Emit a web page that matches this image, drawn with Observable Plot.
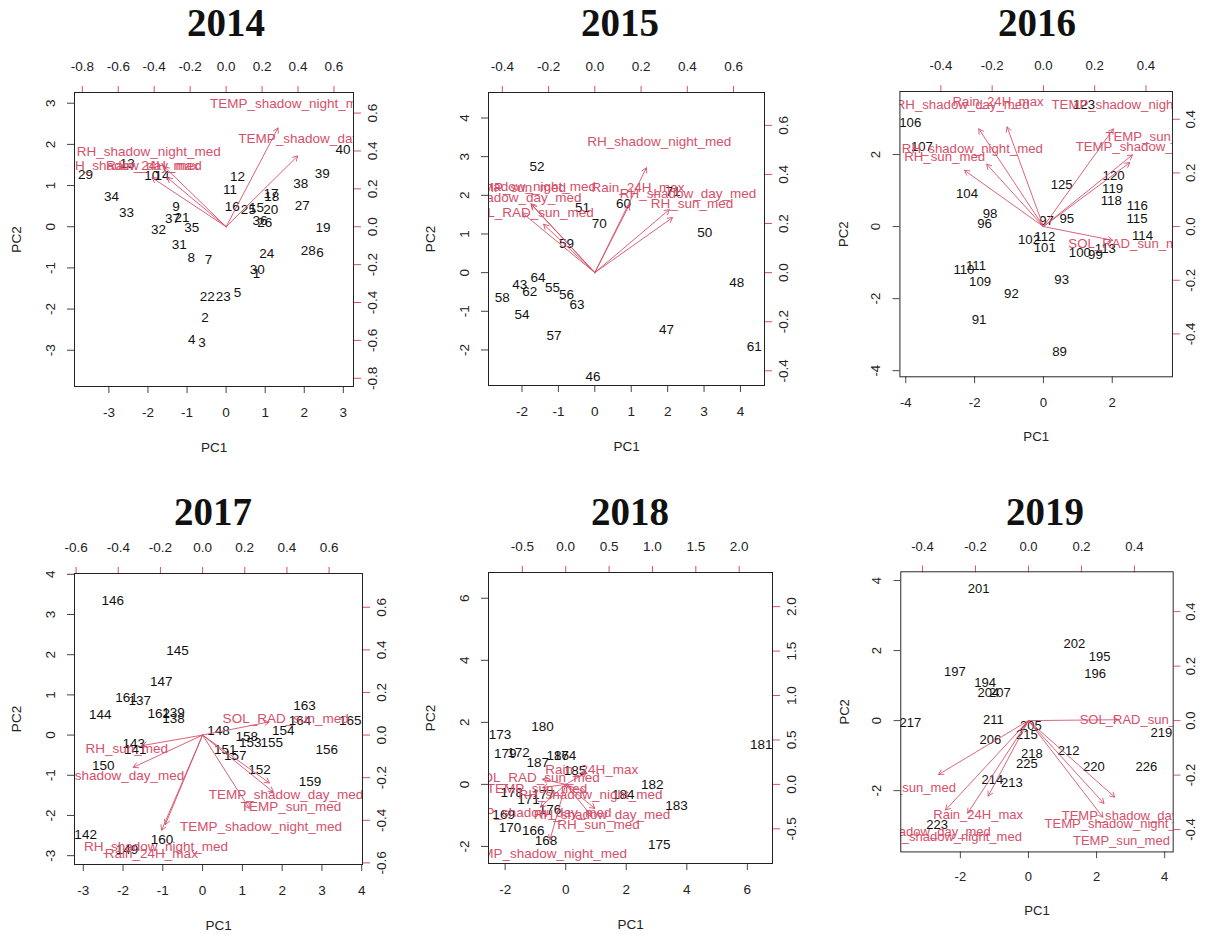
<!DOCTYPE html>
<html><head><meta charset="utf-8">
<script src="https://cdn.jsdelivr.net/npm/d3@7"></script>
<script src="https://cdn.jsdelivr.net/npm/@observablehq/plot@0.6"></script>
<style>
body{margin:0;background:#fff;width:1221px;height:935px;position:relative;overflow:hidden;font-family:"Liberation Sans",Arial,sans-serif}
.title{position:absolute;font-family:"Liberation Serif","Times New Roman",serif;font-weight:bold;font-size:39px;line-height:1;transform:translate(-50%,-50%);color:#111;white-space:nowrap}
.panel{position:absolute}
</style></head><body>
<script>
// ---------- 2014 ----------
const ids2014 = ["29","13","10","14","34","33","9","37","21","32","35","31","8","7","12","11","16","25","15","20","17","18","36","26","38","39","40","27","19","28","6","24","30","1","22","23","5","2","4","3"];
const pc1_2014 = [-3.6,-2.53,-1.9,-1.64,-2.93,-2.55,-1.28,-1.37,-1.13,-1.73,-0.88,-1.2,-0.89,-0.45,0.29,0.1,0.16,0.57,0.78,1.14,1.15,1.17,0.87,0.99,1.91,2.46,2.99,1.95,2.48,2.1,2.4,1.04,0.8,0.78,-0.48,-0.07,0.29,-0.54,-0.88,-0.62];
const pc2_2014 = [1.26,1.54,1.24,1.24,0.73,0.33,0.49,0.2,0.22,-0.08,-0.02,-0.43,-0.75,-0.81,1.22,0.89,0.49,0.42,0.46,0.42,0.8,0.72,0.14,0.1,1.04,1.3,1.88,0.51,-0.02,-0.57,-0.63,-0.65,-1.04,-1.13,-1.7,-1.69,-1.6,-2.2,-2.74,-2.82];
const vars2014 = ["TEMP_shadow_night_med","TEMP_shadow_day_med","RH_shadow_night_med","RH_shadow_day_med","Rain_24H_max"];
const load1_2014 = [0.361,0.498,-0.430,-0.515,-0.409];
const load2_2014 = [0.652,0.467,0.396,0.324,0.324];

// ---------- 2015 ----------
const ids2015 = ["52","51","60","70","59","50","71","64","43","62","58","55","56","63","54","57","46","47","48","61"];
const pc1_2015 = [-1.59,-0.34,0.79,0.12,-0.78,3.02,2.15,-1.56,-2.06,-1.79,-2.54,-1.16,-0.78,-0.49,-2.0,-1.12,-0.05,1.97,3.9,4.38];
const pc2_2015 = [2.75,1.69,1.78,1.26,0.75,1.03,2.1,-0.13,-0.3,-0.5,-0.64,-0.4,-0.56,-0.83,-1.09,-1.63,-2.68,-1.48,-0.27,-1.91];
const vars2015 = ["RH_shadow_night_med","Rain_24H_max","RH_shadow_day_med","RH_sun_med","TEMP_shadow_night_med","TEMP_sun_med","TEMP_shadow_day_med","SOL_RAD_sun_med"];
const load1_2015 = [0.279,0.187,0.403,0.420,-0.345,-0.342,-0.392,-0.277];
const load2_2015 = [0.534,0.345,0.321,0.280,0.351,0.345,0.304,0.246];

// ---------- 2016 ----------
const ids2016 = ["106","107","123","104","98","96","125","120","119","118","116","115","114","97","95","112","102","101","100","99","113","110","111","109","92","93","91","89"];
const pc1_2016 = [-3.87,-3.53,1.18,-2.22,-1.55,-1.71,0.53,2.04,2.01,1.97,2.73,2.72,2.88,0.09,0.68,0.04,-0.42,0.04,1.06,1.51,1.8,-2.31,-1.96,-1.84,-0.93,0.53,-1.87,0.47];
const pc2_2016 = [2.87,2.21,3.39,0.92,0.35,0.08,1.15,1.4,1.06,0.71,0.58,0.23,-0.25,0.15,0.22,-0.28,-0.37,-0.6,-0.73,-0.77,-0.62,-1.2,-1.09,-1.52,-1.86,-1.48,-2.59,-3.47];
const vars2016 = ["RH_shadow_day_med","Rain_24H_max","TEMP_shadow_night_med","TEMP_sun_med","TEMP_shadow_day_med","RH_shadow_night_med","RH_sun_med","SOL_RAD_sun_med"];
const load1_2016 = [-0.315,-0.177,0.341,0.434,0.421,-0.277,-0.385,0.338];
const load2_2016 = [0.455,0.464,0.455,0.334,0.298,0.291,0.262,-0.064];

// ---------- 2017 ----------
const ids2017 = ["146","145","147","161","137","144","162","139","138","163","164","165","148","154","158","153","155","156","151","157","152","159","143","141","150","142","160","149"];
const pc1_2017 = [-2.26,-0.63,-1.04,-1.91,-1.58,-2.57,-1.1,-0.73,-0.73,2.56,2.45,3.71,0.4,2.03,1.11,1.2,1.74,3.12,0.57,0.82,1.43,2.7,-1.73,-1.69,-2.5,-2.94,-1.02,-1.9];
const pc2_2017 = [3.34,2.1,1.33,0.94,0.85,0.52,0.54,0.55,0.41,0.73,0.36,0.36,0.11,0.11,-0.04,-0.19,-0.19,-0.37,-0.37,-0.5,-0.85,-1.16,-0.21,-0.37,-0.76,-2.49,-2.61,-2.84];
const vars2017 = ["SOL_RAD_sun_med","RH_sun_med","RH_shadow_day_med","TEMP_shadow_day_med","TEMP_sun_med","TEMP_shadow_night_med","RH_shadow_night_med","Rain_24H_max"];
const load1_2017 = [0.394,-0.360,-0.411,0.396,0.419,0.277,-0.221,-0.243];
const load2_2017 = [0.077,-0.062,-0.189,-0.281,-0.334,-0.430,-0.525,-0.558];

// ---------- 2018 ----------
const ids2018 = ["180","173","179","172","187","186","174","185","181","182","184","183","175","178","177","171","169","176","170","166","168"];
const pc1_2018 = [-0.77,-2.17,-2.0,-1.56,-0.92,-0.26,-0.02,0.31,6.46,2.86,1.9,3.66,3.09,-1.78,-0.74,-1.23,-2.05,-0.52,-1.84,-1.07,-0.65];
const pc2_2018 = [1.85,1.59,0.99,1.02,0.7,0.91,0.91,0.43,1.29,0.0,-0.34,-0.7,-1.93,-0.27,-0.32,-0.48,-0.97,-0.81,-1.38,-1.48,-1.83];
const vars2018 = ["Rain_24H_max","SOL_RAD_sun_med","TEMP_sun_med","TEMP_shadow_night_med","RH_shadow_day_med","RH_shadow_night_med","RH_sun_med","TEMP_shadow_day_med"];
const load1_2018 = [0.300,-0.335,-0.332,-0.227,0.419,0.286,0.377,-0.363];
const load2_2018 = [0.168,0.073,-0.045,-0.778,-0.339,-0.112,-0.450,-0.318];

// ---------- 2019 ----------
const ids2019 = ["201","202","195","196","197","194","204","207","217","211","206","205","215","218","225","212","220","226","219","214","213","223"];
const pc1_2019 = [-1.46,1.35,2.09,1.96,-2.16,-1.27,-1.18,-0.84,-3.47,-1.03,-1.12,0.07,-0.05,0.1,-0.05,1.18,1.92,3.46,3.9,-1.06,-0.49,-2.68];
const pc2_2019 = [3.76,2.19,1.81,1.35,1.38,1.07,0.78,0.78,-0.06,0.03,-0.55,-0.16,-0.4,-0.94,-1.24,-0.87,-1.31,-1.31,-0.36,-1.7,-1.77,-2.99];
const vars2019 = ["SOL_RAD_sun_med","RH_sun_med","Rain_24H_max","RH_shadow_day_med","RH_shadow_night_med","TEMP_shadow_day_med","TEMP_shadow_night_med","TEMP_sun_med"];
const load1_2019 = [0.423,-0.424,-0.190,-0.391,-0.287,0.407,0.356,0.351];
const load2_2019 = [0.004,-0.247,-0.346,-0.410,-0.425,-0.351,-0.380,-0.443];

// ---------- tick labels ----------
const scoreTicks2014 = [-3,-2,-1,0,1,2,3];
const loadTicks2014 = [-0.8,-0.6,-0.4,-0.2,0,0.2,0.4,0.6];
const scoreTicks2015 = [-2,-1,0,1,2,3,4];
const loadTicks2015 = [-0.4,-0.2,0,0.2,0.4,0.6];
const scoreTicks2016 = [-4,-2,0,2];
const loadTicks2016 = [-0.4,-0.2,0,0.2,0.4];
const scoreTicks2017 = [-3,-2,-1,0,1,2,3,4];
const loadTicks2017 = [-0.6,-0.4,-0.2,0,0.2,0.4,0.6];
const scoreTicks2018 = [-2,0,2,4,6];
const loadTicks2018 = [-0.5,0,0.5,1.0,1.5,2.0];
const scoreTicks2019 = [-2,0,2,4];
const loadTicks2019 = [-0.4,-0.2,0,0.2,0.4];

const RED = "#D6506A";
const fmt1 = d => (Math.round(d * 10) / 10).toFixed(1);
const FS = 13.5;

function panel(o) {
  const [x0, y0, x1, y1] = o.frame;
  const ml = 80, mr = 50, mt = 50, mb = 80;
  const W = Math.round(x1 - x0) + ml + mr, H = Math.round(y1 - y0) + mt + mb;
  const r = o.ratio;
  const scores = o.ids.map((id, i) => ({id, x: o.pc1[i], y: o.pc2[i]}));
  const loads = o.vars.map((v, i) => ({v, x: o.l1[i] * r, y: o.l2[i] * r}));
  const svg = Plot.plot({
    width: W, height: H, marginLeft: ml, marginRight: mr, marginTop: mt, marginBottom: mb,
    x: {domain: o.lim}, y: {domain: o.lim},
    style: {fontFamily: "'Liberation Sans', Arial, sans-serif", fontSize: FS + "px", color: "#222", background: "transparent", overflow: "visible"},
    marks: [
      Plot.axisX({anchor: "bottom", ticks: o.sTicks, tickFormat: d => String(d), tickSize: 7, tickPadding: 14, fontSize: FS,
        stroke: "#444", fill: "#222", label: "PC1", labelAnchor: "center", labelOffset: 65, labelArrow: "none"}),
      Plot.axisY({anchor: "left", ticks: o.sTicks, tickFormat: d => String(d), tickSize: 7, tickPadding: 13, tickRotate: -90, fontSize: FS,
        stroke: "#444", fill: "#222", label: "PC2", labelAnchor: "center", labelOffset: 63, labelArrow: "none"}),
      Plot.axisX({anchor: "top", ticks: o.lTicks.map(v => v * r), tickFormat: d => fmt1(d / r), tickSize: 7, tickPadding: 15, fontSize: FS,
        stroke: RED, fill: "#222", label: null}),
      Plot.axisY({anchor: "right", ticks: o.lTicks.map(v => v * r), tickFormat: d => fmt1(d / r), tickSize: 7, tickPadding: 16, tickRotate: -90, fontSize: FS,
        stroke: RED, fill: "#222", label: null}),
      Plot.text(scores, {x: "x", y: "y", text: "id", fill: "#111", fontSize: FS, clip: true}),
      Plot.arrow(loads, {x1: () => 0, y1: () => 0, x2: d => d.x * 0.8, y2: d => d.y * 0.8, stroke: RED, strokeWidth: 0.9, headLength: 9, clip: true}),
      Plot.text(loads, {x: "x", y: "y", text: "v", fill: RED, fontSize: FS, clip: true}),
      Plot.frame({stroke: "#222"})
    ]
  });
  const div = document.createElement("div");
  div.className = "panel";
  div.style.left = (x0 - ml) + "px";
  div.style.top = (y0 - mt) + "px";
  div.appendChild(svg);
  document.body.appendChild(div);
  const t = document.createElement("div");
  t.className = "title";
  t.textContent = o.title;
  t.style.left = o.tx + "px";
  t.style.top = o.ty + "px";
  document.body.appendChild(t);
}

panel({title: "2014", tx: 226, ty: 22, frame: [74, 92, 353, 386], lim: [-3.88, 3.26], ratio: 4.6,
  sTicks: scoreTicks2014, lTicks: loadTicks2014, ids: ids2014, pc1: pc1_2014, pc2: pc2_2014, vars: vars2014, l1: load1_2014, l2: load2_2014});
panel({title: "2015", tx: 620, ty: 22, frame: [488, 92, 764, 385], lim: [-2.92, 4.66], ratio: 6.35,
  sTicks: scoreTicks2015, lTicks: loadTicks2015, ids: ids2015, pc1: pc1_2015, pc2: pc2_2015, vars: vars2015, l1: load1_2015, l2: load2_2015});
panel({title: "2016", tx: 1037, ty: 22, frame: [901, 92, 1179, 383], lim: [-4.17, 3.75], ratio: 7.45,
  sTicks: scoreTicks2016, lTicks: loadTicks2016, ids: ids2016, pc1: pc1_2016, pc2: pc2_2016, vars: vars2016, l1: load1_2016, l2: load2_2016});
panel({title: "2017", tx: 213, ty: 511, frame: [74, 573, 362, 864], lim: [-3.22, 4.02], ratio: 5.3,
  sTicks: scoreTicks2017, lTicks: loadTicks2017, ids: ids2017, pc1: pc1_2017, pc2: pc2_2017, vars: vars2017, l1: load1_2017, l2: load2_2017});
panel({title: "2018", tx: 630, ty: 511, frame: [488, 572, 772, 863], lim: [-2.55, 6.83], ratio: 2.865,
  sTicks: scoreTicks2018, lTicks: loadTicks2018, ids: ids2018, pc1: pc1_2018, pc2: pc2_2018, vars: vars2018, l1: load1_2018, l2: load2_2018});
panel({title: "2019", tx: 1045, ty: 511, frame: [903, 573, 1185, 863], lim: [-3.75, 4.25], ratio: 7.78,
  sTicks: scoreTicks2019, lTicks: loadTicks2019, ids: ids2019, pc1: pc1_2019, pc2: pc2_2019, vars: vars2019, l1: load1_2019, l2: load2_2019});
</script>
</body></html>
